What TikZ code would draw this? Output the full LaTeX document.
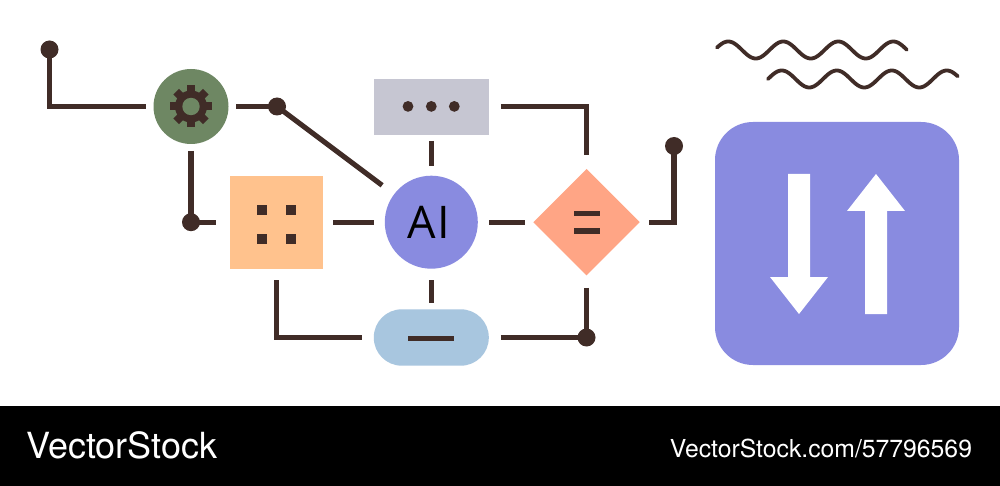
\documentclass[tikz,border=0pt]{standalone}
\usepackage{fontspec}
\setmainfont{Open Sans}
\newfontfamily\wm{TeX Gyre Heros}
\newfontfamily\lab{Open Sans}
\usetikzlibrary{shapes.geometric}
\definecolor{ink}{HTML}{402C27}
\definecolor{leaf}{HTML}{6E8763}
\definecolor{peach}{HTML}{FFC28D}
\definecolor{mist}{HTML}{C6C6D2}
\definecolor{violet}{HTML}{898BE0}
\definecolor{salmon}{HTML}{FFA585}
\definecolor{sky}{HTML}{A8C6DF}
\tikzset{
  shapebox/.style={draw=none,inner sep=0pt,outer sep=0pt},
  wire/.style={draw=ink,line width=5.1pt},
  junction/.style={circle,fill=ink,shapebox,minimum size=18pt},
  wavy/.style={draw=ink,line width=3.8pt,line cap=round,line join=round},
}
\begin{document}
\begin{tikzpicture}[x=1pt,y=-1pt]
\useasboundingbox (0,0) rectangle (1000,486);
\fill[white] (0,0) rectangle (1000,406);
\fill[black] (0,406) rectangle (1000,486);
% nodes
\node[shapebox,circle,fill=leaf,minimum size=75pt] (gear) at (191,106.5) {};
\node[shapebox,fill=peach,minimum width=93pt,minimum height=93pt] (sq) at (276.5,222.2) {};
\node[shapebox,fill=mist,minimum width=115pt,minimum height=55.7pt] (gray) at (431.3,106.8) {};
\node[shapebox,circle,fill=violet,minimum size=93pt,text=black] (ai) at (431.3,222.2) {\lab\fontsize{45}{45}\selectfont A\kern2pt I\kern5pt};
\node[shapebox,diamond,aspect=1,fill=salmon,minimum width=106.4pt,minimum height=106.4pt] (dia) at (586.5,222.2) {};
\node[shapebox,fill=sky,rounded corners=28pt,minimum width=115pt,minimum height=56.4pt] (pill) at (431.3,337.5) {};
\node[shapebox,fill=violet,rounded corners=38pt,minimum width=244pt,minimum height=243pt] (big) at (837,243.5) {};
\node[junction] (ja) at (49.5,49.5) {};
\node[junction] (jb) at (277,106.5) {};
\node[junction] (jc) at (191,222.2) {};
\node[junction] (jd) at (674,146) {};
\node[junction] (je) at (586.5,337.5) {};
% connectors
\draw[wire,shorten >=8pt] (ja.center) |- (gear.west);
\draw[wire,shorten <=7.5pt] (gear.east) -- (jb.center);
\draw[wire,shorten >=15pt] (jb.center) -- (ai);
\draw[wire,shorten <=7pt] (gear.south) -- (jc.center);
\draw[wire,shorten >=14pt] (jc.center) -- (sq.west);
\draw[wire,shorten <=10pt,shorten >=11.3pt] (sq.east) -- (ai.west);
\draw[wire,shorten <=11.3pt,shorten >=8pt] (ai.east) -- (dia.west);
\draw[wire,shorten <=6.3pt,shorten >=9.7pt] (gray.south) -- (ai.north);
\draw[wire,shorten <=11.3pt,shorten >=6.3pt] (ai.south) -- (pill.north);
\draw[wire,shorten <=12pt,shorten >=14pt] (gray.east) -| (dia.north);
\draw[wire,shorten <=9.3pt] (dia.east) -| (jd.center);
\draw[wire,shorten <=12.4pt] (dia.south) -- (je.center);
\draw[wire,shorten <=12pt] (pill.east) -- (je.center);
\draw[wire,shorten <=11.3pt,shorten >=12pt] (sq.south) |- (pill.west);
% gear glyph
\foreach \a in {0,45,...,315}
  \fill[ink,rotate around={\a:(191,106.5)}] (187,106.5) rectangle (195,85.5);
\fill[ink] (191,106.5) circle[radius=16];
\fill[leaf] (191,106.5) circle[radius=8.7];
% square dots
\foreach \x/\y in {262/210,291/210,262/239,291/239}
  \fill[ink] (\x-5.1,\y-5.1) rectangle (\x+5.1,\y+5.1);
% grey dots
\foreach \x in {408,431.3,454.3}
  \fill[ink] (\x,106.4) circle[radius=5.4];
% diamond bars
\fill[ink] (574.3,210.8) rectangle (599.7,216);
\fill[ink] (574.3,228.4) rectangle (599.7,233.6);
% pill bar
\fill[ink] (408.3,335.8) rectangle (454.3,341);
% arrows
\fill[white] (788,174) -- (810,174) -- (810,277) -- (828,277) -- (799,314) -- (770,277) -- (788,277) -- cycle;
\fill[white] (865,314) -- (887,314) -- (887,211) -- (905,211) -- (876,174) -- (847,211) -- (865,211) -- cycle;
% waves
\draw[wavy] plot[domain=717:906.7,samples=200] (\x,{50-8.5*sin((\x-714.5)*6.545)});
\draw[wavy] plot[domain=768:957.7,samples=200] (\x,{79-8.5*sin((\x-768)*6.545)});
% watermark
\node[shapebox,anchor=base west,text=white] (wa) at (26,458) {\wm\fontsize{36}{36}\selectfont VectorStock};
\node[shapebox,anchor=base east,text=white] (wb) at (972,457) {\wm\fontsize{24.75}{25}\selectfont VectorStock.com/57796569};
\end{tikzpicture}
\end{document}
